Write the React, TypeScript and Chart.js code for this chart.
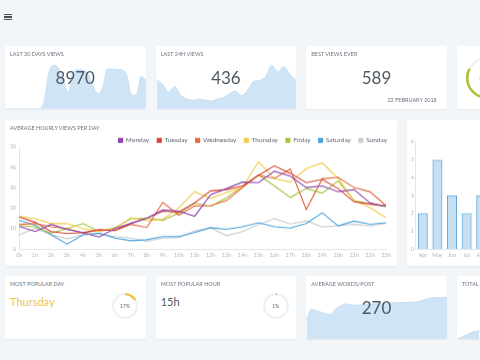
import React, { useEffect, useRef } from "react";
import { Chart, registerables } from "chart.js";

Chart.register(...registerables);

const FONT = "Lato, 'Open Sans', sans-serif";

// ---------- main line chart data ----------
const hourLabels = ["0h","1h","2h","3h","4h","5h","6h","7h","8h","9h","10h","11h","12h","13h","14h","15h","16h","17h","18h","19h","20h","21h","22h","23h"];
const dayNames = ["Monday","Tuesday","Wednesday","Thursday","Friday","Saturday","Sunday"];
const dayColors = ["#8e44ad","#d9402f","#e2693c","#efcb48","#a4c33f","#4aa3dd","#c9cdd1"];

const mondayViews    = [11, 8.5, 12, 9.5, 8, 5.8, 10, 12.5, 15, 19, 18.5, 16, 26.5, 29.5, 32.7, 32.4, 38, 35.6, 30, 30.8, 28, 29, 22.5, 20.8];
const tuesdayViews   = [15.6, 13, 8.5, 7.5, 8, 9.5, 9, 12.5, 15, 18.5, 18, 22.5, 28.4, 29, 30.8, 36, 40.6, 37, 32.4, 34, 29.5, 23, 22, 21];
const wednesdayViews = [12, 12.4, 10.8, 10, 7.7, 9.3, 9, 12, 10.5, 22.8, 16.5, 21, 21.2, 23.6, 30, 36, 34.5, 39, 19.3, 34.3, 35, 30, 27.9, 21.2];
const thursdayViews  = [16, 14.8, 12.4, 12.4, 10, 8.5, 10, 15.2, 13.8, 14.5, 20, 28, 24.7, 27.6, 30, 42.7, 34.3, 32.7, 39.3, 42, 34.5, 23.6, 20.2, 15.3];
const fridayViews    = [11.3, 10.8, 7.7, 10, 12.4, 8.5, 10.4, 14.8, 15, 14, 17.5, 22.4, 20.8, 25, 30.5, 36.2, 30.8, 25.2, 29.5, 27.3, 33.2, 23.6, 22, 20.7];
const saturdayViews  = [14, 11.6, 6.9, 2.4, 6.9, 7.7, 5.3, 4, 4.5, 6, 6, 8, 10.4, 9.6, 10.8, 12.8, 10.8, 10.2, 12.4, 17.7, 11.3, 13.6, 12.1, 12.8];
const sundayViews    = [6.9, 10, 6.9, 5, 6.9, 7.5, 6, 5.3, 3.7, 5.3, 5.6, 8.8, 10.4, 6.5, 8.5, 12, 14.8, 12.2, 13.7, 10.8, 11.3, 12, 11.2, 12.4];
const daySeries = [mondayViews, tuesdayViews, wednesdayViews, thursdayViews, fridayViews, saturdayViews, sundayViews];
const hourlyTicks = [0, 10, 20, 30, 40, 50];

// ---------- sparklines (percent of card height) ----------
const last30DaysViews = [0,0,0,0,0,0,0,0,14,59,70,64,43,26,59,63,62,56,38,25,33,64,64,63,63,54,23,22,52,46];
const last24hViews = [47,40,27,36,22,16,14,16,14,13,16,18,24,29,21,30,44,46,52,70,59,68,55,46];
const avgWordsPerPost = [30,48,45.6,43,40.4,39.4,48,53,56,55,54,54.4,55.4,56,56,56.5,57,57.5,58,58,58.5,58.5,59,59.6,62,65,65.8,66.3,66.3,66.8];
const totalSpark = [0,4,8,12,13];

// ---------- bar chart ----------
const months = ["Apr","May","Jun","Jul","Aug"];
const postsPerMonth = [2,5,3,2,3];

// ---------- gauges ----------
const popularDayPct = 17;
const popularHourPct = 1;
const topGaugePct = 83;

const legendShrink = {
  id: "legendShrink",
  beforeInit(chart: any) {
    const legend = chart.legend;
    if (!legend) return;
    const orig = legend.fit;
    legend.fit = function () {
      orig.call(this);
      this.height -= 7;
    };
  },
};

function ChartBox({ config, style }: { config: any; style: React.CSSProperties }) {
  const ref = useRef<HTMLCanvasElement>(null);
  useEffect(() => {
    const chart = new Chart(ref.current as HTMLCanvasElement, config);
    return () => chart.destroy();
  }, []);
  return (
    <div style={{ position: "absolute", ...style }}>
      <canvas ref={ref} />
    </div>
  );
}

function sparkConfig(values: number[]) {
  return {
    type: "line",
    data: {
      labels: values.map((_, i) => String(i)),
      datasets: [
        {
          data: values,
          fill: "origin",
          backgroundColor: "#cfe4f5",
          borderColor: "#c6dff3",
          borderWidth: 1,
          pointRadius: 0,
          cubicInterpolationMode: "monotone",
        },
      ],
    },
    options: {
      animation: false,
      responsive: true,
      maintainAspectRatio: false,
      layout: { padding: 0 },
      plugins: { legend: { display: false }, tooltip: { enabled: false } },
      scales: { x: { display: false }, y: { display: false, min: 0, max: 100 } },
    },
  };
}

function gaugeConfig(pct: number, color: string, cutout: string) {
  return {
    type: "doughnut",
    data: {
      labels: ["value", "rest"],
      datasets: [{ data: [pct, 100 - pct], backgroundColor: [color, "#eef2f6"], borderWidth: 0 }],
    },
    options: {
      animation: false,
      responsive: true,
      maintainAspectRatio: false,
      cutout,
      plugins: { legend: { display: false }, tooltip: { enabled: false } },
    },
  };
}

const lineConfig = {
  type: "line",
  data: {
    labels: hourLabels,
    datasets: dayNames.map((name, i) => ({
      label: name,
      data: daySeries[i],
      borderColor: dayColors[i],
      backgroundColor: dayColors[i],
      borderWidth: 1.1,
      pointRadius: 0,
      tension: 0,
      fill: false,
    })),
  },
  options: {
    animation: false,
    responsive: true,
    maintainAspectRatio: false,
    layout: { padding: 0 },
    plugins: {
      legend: {
        display: true,
        position: "top",
        align: "end",
        labels: { boxWidth: 4, boxHeight: 4, padding: 8, color: "#5a6570", font: { family: FONT, size: 6.5 } },
      },
      tooltip: { enabled: false },
    },
    scales: {
      x: {
        grid: { display: false, drawTicks: false },
        border: { display: true, color: "#e4e7ea" },
        ticks: { color: "#b3b8bd", font: { family: FONT, size: 5.5 }, padding: 3, maxRotation: 0, autoSkip: false },
        afterFit: (s: any) => { s.paddingRight = 9; },
      },
      y: {
        min: hourlyTicks[0],
        max: hourlyTicks[hourlyTicks.length - 1],
        grid: { display: false, drawTicks: false },
        border: { display: true, color: "#e4e7ea" },
        ticks: { stepSize: 10, color: "#b3b8bd", font: { family: FONT, size: 5.5 }, padding: 3 },
        afterFit: (s: any) => { s.width = 14.3; },
      },
    },
  },
  plugins: [legendShrink],
};

const barConfig = {
  type: "bar",
  data: {
    labels: months,
    datasets: [
      {
        data: postsPerMonth,
        backgroundColor: "rgba(93,165,218,0.35)",
        borderColor: "#5aa3d9",
        borderWidth: 1,
        categoryPercentage: 0.8,
        barPercentage: 0.85,
      },
    ],
  },
  options: {
    animation: false,
    responsive: true,
    maintainAspectRatio: false,
    layout: { padding: { top: 8.7, left: 0, right: 0, bottom: 0 } },
    plugins: { legend: { display: false }, tooltip: { enabled: false } },
    scales: {
      x: {
        grid: { display: false, drawTicks: false },
        border: { display: true, color: "#e4e7ea" },
        ticks: { color: "#b3b8bd", font: { family: FONT, size: 5.5 }, padding: 3, maxRotation: 0 },
      },
      y: {
        min: 0,
        max: 6,
        grid: { display: false, drawTicks: false },
        border: { display: true, color: "#e4e7ea" },
        ticks: { stepSize: 1, color: "#b3b8bd", font: { family: FONT, size: 5.5 }, padding: 1.5 },
        afterFit: (s: any) => { s.width = 8.5; },
      },
    },
  },
};

const card: React.CSSProperties = {
  position: "absolute",
  background: "#ffffff",
  boxShadow: "0 1px 2px rgba(40,60,80,0.07)",
  borderRadius: 2,
  overflow: "hidden",
};

const titleStyle: React.CSSProperties = {
  position: "absolute",
  left: 5,
  top: 6,
  fontSize: 5.5,
  lineHeight: "5.5px",
  color: "#6b7580",
  textTransform: "uppercase",
  whiteSpace: "nowrap",
  zIndex: 2,
};

const bigNumber: React.CSSProperties = {
  position: "absolute",
  left: 0,
  width: "100%",
  textAlign: "center",
  fontSize: 17,
  lineHeight: "17px",
  color: "#4d5963",
  zIndex: 2,
};

const gaugeText: React.CSSProperties = {
  position: "absolute",
  display: "flex",
  alignItems: "center",
  justifyContent: "center",
  fontSize: 5,
  color: "#5a6570",
  zIndex: 2,
};

export default function App() {
  const colX = [5, 155.7, 306.3, 457];
  const cw = 140.5;
  return (
    <div
      style={{
        position: "fixed",
        left: 0,
        top: 0,
        width: 480,
        height: 360,
        background: "#f3f6f9",
        overflow: "hidden",
        fontFamily: FONT,
      }}
    >
      {/* hamburger */}
      {[13.6, 16.4, 19.2].map((y) => (
        <div key={y} style={{ position: "absolute", left: 3.5, top: y, width: 8.5, height: 1.3, background: "#4a4f55" }} />
      ))}

      {/* top row */}
      <div style={{ ...card, left: colX[0], top: 45.7, width: cw, height: 63.5 }}>
        <ChartBox config={sparkConfig(last30DaysViews)} style={{ left: 0, top: 0, width: cw, height: 63.5 }} />
        <div style={titleStyle}>Last 30 days views</div>
        <div style={{ ...bigNumber, top: 23 }}>8970</div>
      </div>
      <div style={{ ...card, left: colX[1], top: 45.7, width: cw, height: 63.5 }}>
        <ChartBox config={sparkConfig(last24hViews)} style={{ left: 0, top: 0, width: cw, height: 63.5 }} />
        <div style={titleStyle}>Last 24h views</div>
        <div style={{ ...bigNumber, top: 23 }}>436</div>
      </div>
      <div style={{ ...card, left: colX[2], top: 45.7, width: cw, height: 63.5 }}>
        <div style={titleStyle}>Best views ever</div>
        <div style={{ ...bigNumber, top: 23 }}>589</div>
        <div style={{ ...titleStyle, left: "auto", right: 10, top: 52 }}>22 February 2018</div>
      </div>
      <div style={{ ...card, left: colX[3], top: 45.7, width: cw, height: 63.5 }}>
        <ChartBox config={gaugeConfig(topGaugePct, "#a6c53f", "88%")} style={{ left: 9, top: 11.8, width: 42, height: 42 }} />
        <div style={{ ...gaugeText, left: 9, top: 11.8, width: 42, height: 42, fontSize: 8 }}>{topGaugePct}%</div>
      </div>

      {/* middle row */}
      <div style={{ ...card, left: 5, top: 119.5, width: 392, height: 146.5 }}>
        <div style={{ ...titleStyle, top: 6 }}>Average hourly views per day</div>
      </div>
      <ChartBox config={lineConfig} style={{ left: 5, top: 129, width: 390, height: 131.6 }} />

      <div style={{ ...card, left: 407, top: 119.5, width: 120, height: 146.5 }} />
      <ChartBox config={barConfig} style={{ left: 407, top: 133, width: 82, height: 127.6 }} />

      {/* bottom row */}
      <div style={{ ...card, left: colX[0], top: 275.5, width: cw, height: 63.5 }}>
        <div style={titleStyle}>Most popular day</div>
        <div style={{ position: "absolute", left: 5, top: 20, fontSize: 11, lineHeight: "11px", color: "#ecc54a" }}>Thursday</div>
        <ChartBox config={gaugeConfig(popularDayPct, "#efc23a", "82%")} style={{ left: 107, top: 17.5, width: 26, height: 26 }} />
        <div style={{ ...gaugeText, left: 107, top: 17.5, width: 26, height: 26 }}>{popularDayPct}%</div>
      </div>
      <div style={{ ...card, left: colX[1], top: 275.5, width: cw, height: 63.5 }}>
        <div style={titleStyle}>Most popular hour</div>
        <div style={{ position: "absolute", left: 5, top: 20.5, fontSize: 11, lineHeight: "11px", color: "#4d5963" }}>15h</div>
        <ChartBox config={gaugeConfig(popularHourPct, "#7f8a94", "82%")} style={{ left: 107, top: 17.5, width: 26, height: 26 }} />
        <div style={{ ...gaugeText, left: 107, top: 17.5, width: 26, height: 26 }}>{popularHourPct}%</div>
      </div>
      <div style={{ ...card, left: colX[2], top: 275.5, width: cw, height: 63.5 }}>
        <ChartBox config={sparkConfig(avgWordsPerPost)} style={{ left: 0, top: 0, width: cw, height: 63.5 }} />
        <div style={titleStyle}>Average words/post</div>
        <div style={{ ...bigNumber, top: 23.5 }}>270</div>
      </div>
      <div style={{ ...card, left: colX[3], top: 275.5, width: cw, height: 63.5 }}>
        <ChartBox config={sparkConfig(totalSpark)} style={{ left: 0, top: 0, width: 23, height: 63.5 }} />
        <div style={titleStyle}>Total posts</div>
      </div>
    </div>
  );
}
